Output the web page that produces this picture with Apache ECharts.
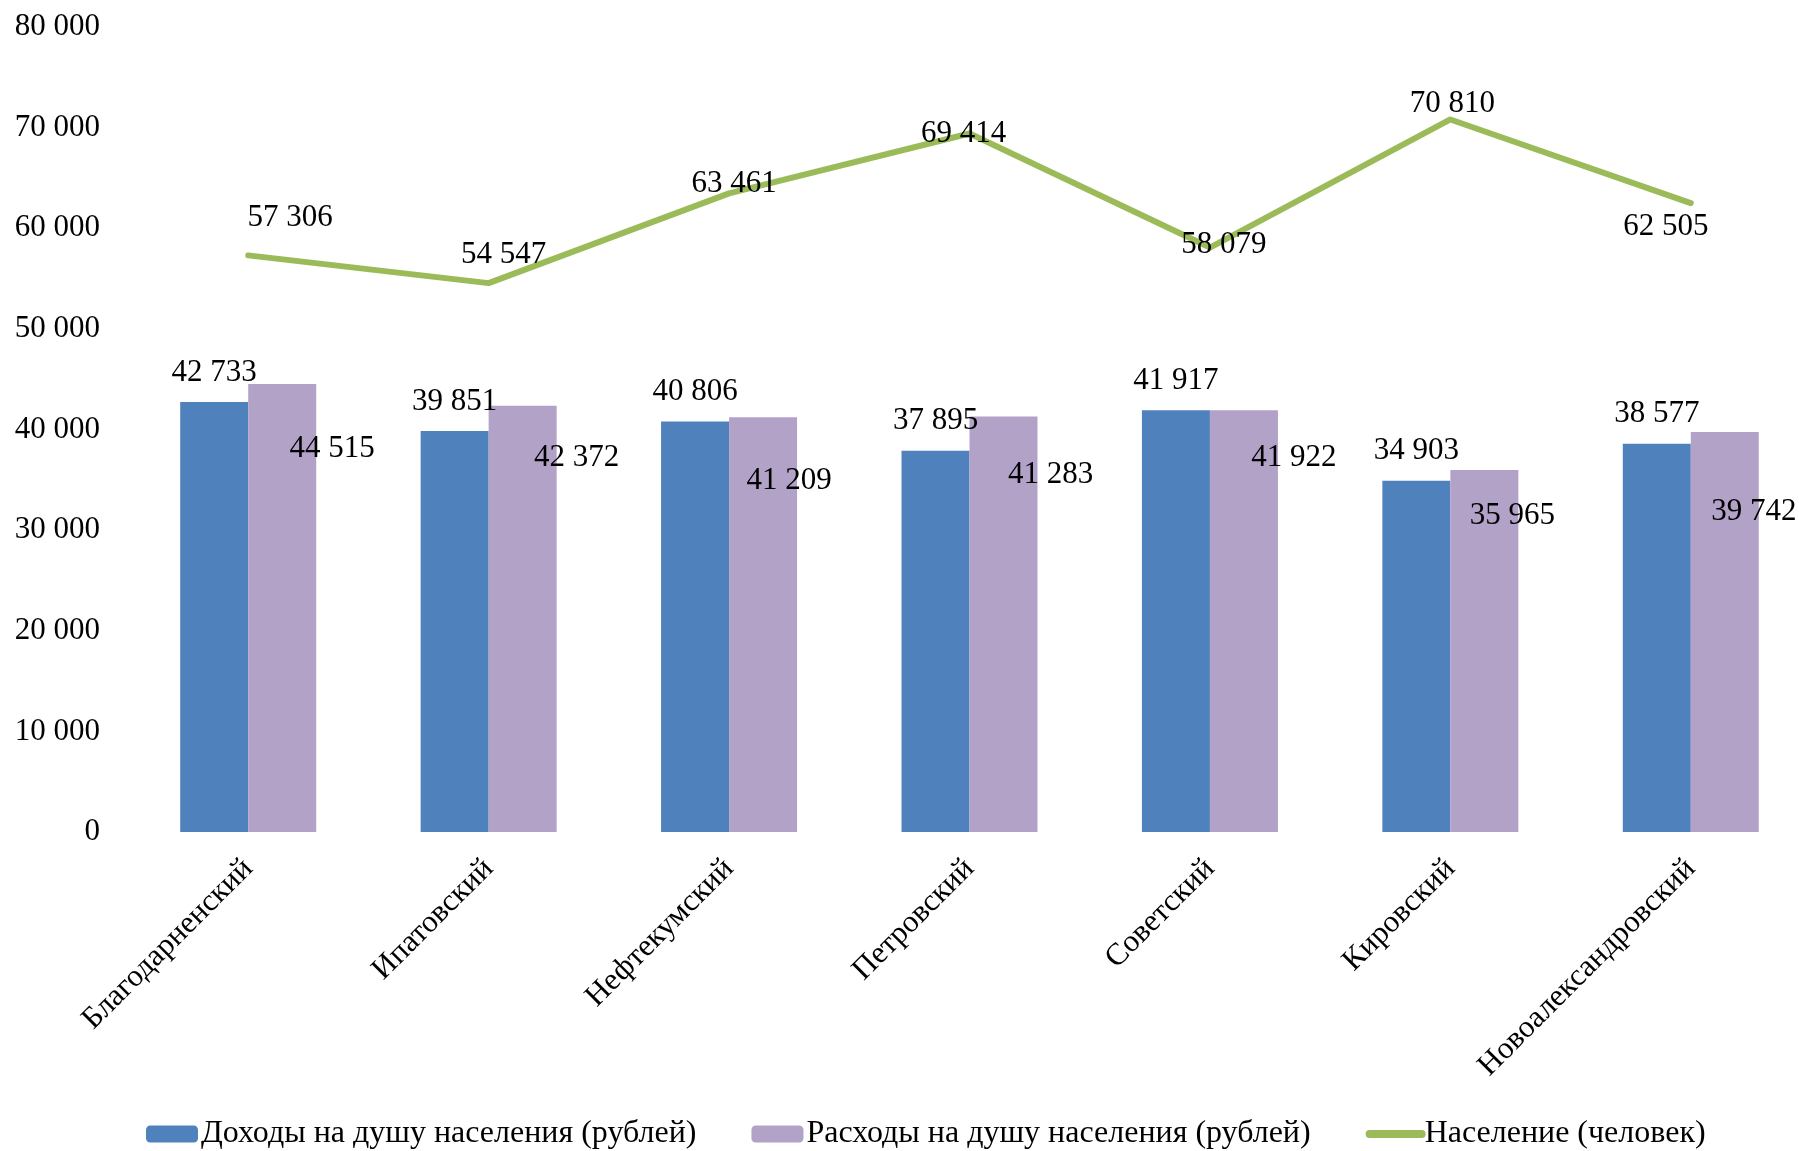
<!DOCTYPE html>
<html>
<head>
<meta charset="utf-8">
<script src="https://cdn.jsdelivr.net/npm/echarts@6/dist/echarts.min.js"></script>
<style>
  html, body { margin: 0; padding: 0; background: #fff; }
  #chart { width: 1799px; height: 1151px; }
</style>
</head>
<body>
<div id="chart"></div>
<script>
// районы
const districts = ['Благодарненский', 'Ипатовский', 'Нефтекумский', 'Петровский', 'Советский', 'Кировский', 'Новоалександровский'];
const income = [42733, 39851, 40806, 37895, 41917, 34903, 38577];
const expense = [44515, 42372, 41209, 41283, 41922, 35965, 39742];
const population = [57306, 54547, 63461, 69414, 58079, 70810, 62505];
const yTicks = [0, 10000, 20000, 30000, 40000, 50000, 60000, 70000, 80000];

const seriesNames = ['Доходы на душу населения (рублей)', 'Расходы на душу населения (рублей)', 'Население (человек)'];

// label nudges, as placed in the original
const expenseLabelShift = [[50, 49], [54, 37], [26, 48], [47, 43], [50, 32], [28, 30], [29, 64]];
const popLabelShift = [[42, -37], [15, -28], [5, -10], [-6, 0], [14, -3], [2, -16], [-25, 24]];

const FONT = '"Liberation Serif", "Times New Roman", serif';

function fmt(v) {
    return String(v).replace(/\B(?=(\d{3})+(?!\d))/g, ' ');
}

let myChart = echarts.init(document.getElementById('chart'));
let option = {
    animation: false,
    textStyle: { fontFamily: FONT, color: '#000' },
    grid: { left: 128, width: 1683, top: 27, bottom: 319, containLabel: false, outerBoundsMode: 'none' },
    legend: {
        left: 141,
        bottom: -4,
        itemWidth: 52,
        itemHeight: 17,
        itemGap: 55,
        textStyle: { fontFamily: FONT, fontSize: 32, color: '#000', padding: [0, 0, 0, -2] },
        data: [
            seriesNames[0],
            seriesNames[1],
            {
                name: seriesNames[2],
                itemStyle: { opacity: 0 },
                lineStyle: { width: 8, cap: 'round' }
            }
        ]
    },
    xAxis: {
        type: 'category',
        data: districts,
        axisLine: { show: false },
        axisTick: { show: false },
        axisLabel: {
            interval: 0,
            rotate: 45,
            margin: 32,
            fontFamily: FONT,
            fontSize: 31,
            color: '#000'
        }
    },
    yAxis: {
        type: 'value',
        min: yTicks[0],
        max: yTicks[yTicks.length - 1],
        interval: yTicks[1] - yTicks[0],
        axisLine: { show: false },
        axisTick: { show: false },
        splitLine: { show: false },
        axisLabel: {
            margin: 28,
            fontFamily: FONT,
            fontSize: 31,
            color: '#000',
            formatter: v => fmt(v)
        }
    },
    series: [
        {
            name: seriesNames[0],
            type: 'bar',
            barWidth: 68,
            barGap: '0%',
            itemStyle: { color: '#4F81BD' },
            label: {
                show: true,
                position: 'top',
                distance: 14,
                fontFamily: FONT,
                fontSize: 31,
                color: '#000',
                formatter: p => fmt(p.value)
            },
            data: income
        },
        {
            name: seriesNames[1],
            type: 'bar',
            barWidth: 68,
            barGap: '0%',
            itemStyle: { color: '#B2A2C7' },
            data: expense.map((v, i) => ({
                value: v,
                label: {
                    show: true,
                    position: 'insideTop',
                    distance: 0,
                    offset: expenseLabelShift[i],
                    fontFamily: FONT,
                    fontSize: 31,
                    color: '#000',
                    formatter: p => fmt(p.value)
                }
            }))
        },
        {
            name: seriesNames[2],
            type: 'line',
            symbol: 'circle',
            symbolSize: 2,
            itemStyle: { color: '#9BBB59' },
            lineStyle: { color: '#9BBB59', width: 6, cap: 'round', join: 'round' },
            z: 5,
            data: population.map((v, i) => ({
                value: v,
                label: {
                    show: true,
                    position: 'inside',
                    offset: popLabelShift[i],
                    fontFamily: FONT,
                    fontSize: 31,
                    color: '#000',
                    formatter: p => fmt(p.value)
                }
            }))
        }
    ]
};
myChart.setOption(option, true);
window.addEventListener('resize', function() {
    myChart.resize();
});
</script>
</body>
</html>
